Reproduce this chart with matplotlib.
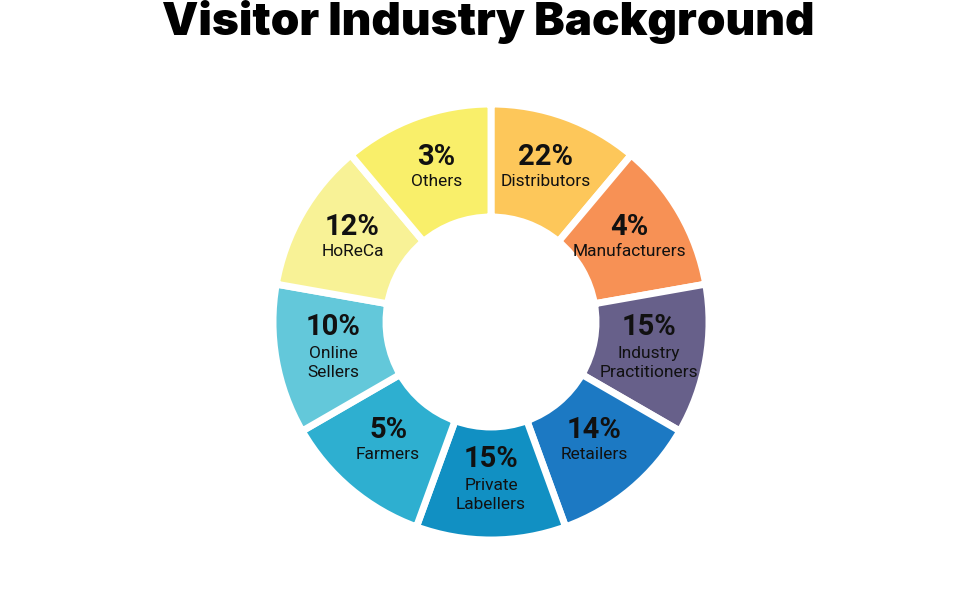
import matplotlib.pyplot as plt
import numpy as np

# segments drawn clockwise from the top
names = ["Distributors", "Manufacturers", "Industry\nPractitioners", "Retailers",
         "Private\nLabellers", "Farmers", "Online\nSellers", "HoReCa", "Others"]
shares = [22, 4, 15, 14, 15, 5, 10, 12, 3]
# every slice in the picture has the same size, whatever its share
slice_sizes = [1, 1, 1, 1, 1, 1, 1, 1, 1]
colors = ["#FDC75A", "#F79155", "#67608A", "#1C79C3", "#1190C3",
          "#2EAFD0", "#63C8DA", "#F8F296", "#F9EF6A"]

W, H = 976, 615
fig = plt.figure(figsize=(W / 100, H / 100), dpi=100)
ax = fig.add_axes([0, 0, 1, 1])

cx, cy = 491, H - 322
r_out, r_in = 218, 105
ax.pie(slice_sizes, colors=colors, startangle=90, counterclock=False,
       center=(cx, cy), radius=r_out, frame=True,
       wedgeprops=dict(width=r_out - r_in, edgecolor="white", linewidth=5))
ax.set_xlim(0, W)
ax.set_ylim(0, H)
ax.set_aspect("equal")
ax.axis("off")

step = 360 / len(names)
for i, (name, share) in enumerate(zip(names, shares)):
    ang = np.deg2rad(90 - step * (i + 0.5))
    x = cx + 160 * np.cos(ang)
    y = cy + 160 * np.sin(ang)
    two = "\n" in name
    ax.text(x, y + (23 if two else 15), f"{share}%", ha="center", va="center",
            fontsize=21, fontweight="bold", family="Roboto", color="#111111")
    ax.text(x, y - (13 if two else 10), name, ha="center", va="center",
            fontsize=12.5, family="Roboto", color="#111111", linespacing=1.35)

fig.text(0.5, 1 - 22 / H, "Visitor Industry Background", ha="center", va="center",
         fontsize=33, fontweight="black", family="Inter", color="black")

fig.savefig("out.png", dpi=100)
